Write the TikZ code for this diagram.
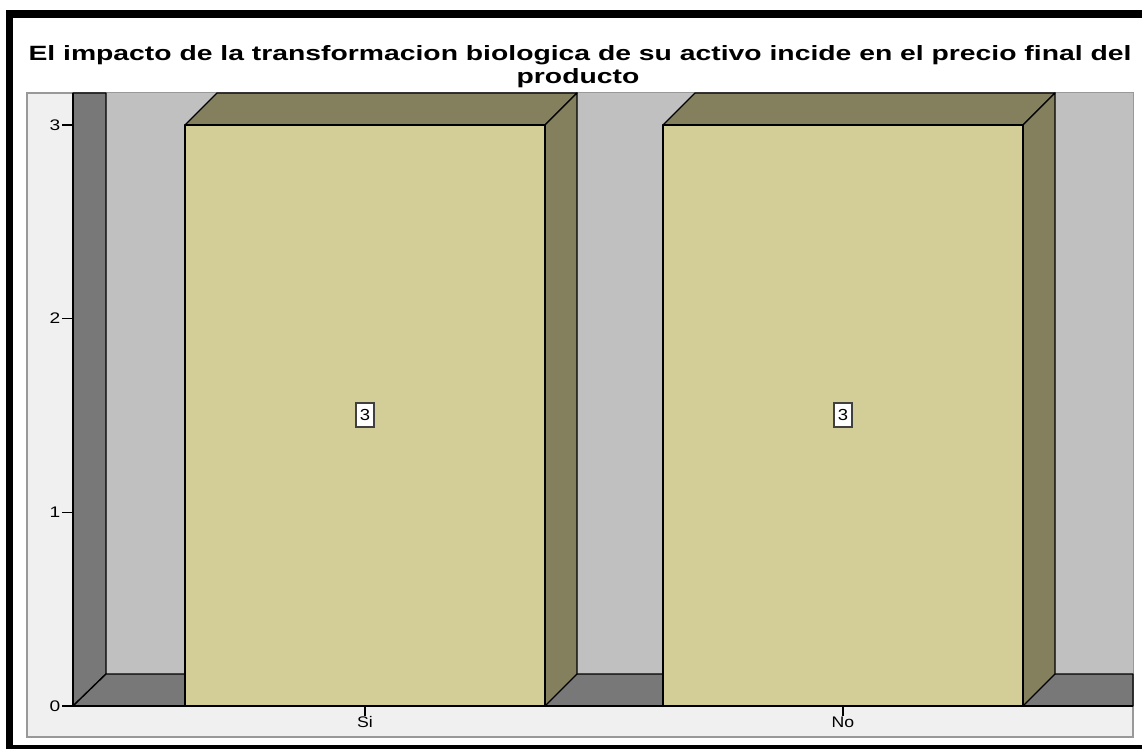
\documentclass[tikz,border=0pt]{standalone}
\usepackage{fontspec}
\setmainfont{Liberation Sans}
\definecolor{panelgray}{HTML}{F0F0F0}
\definecolor{wallgray}{HTML}{C0C0C0}
\definecolor{floorgray}{HTML}{787878}
\definecolor{barfront}{HTML}{D3CE97}
\definecolor{barside}{HTML}{84805E}
\newcommand{\wide}[2]{\scalebox{#1}[1]{#2}}
\begin{document}
\begin{tikzpicture}[x=0.75pt,y=-0.75pt,
    titletext/.style={font=\bfseries\fontsize{15.5}{17}\selectfont, inner sep=0pt, anchor=base},
    ticktext/.style={font=\fontsize{11.5}{13}\selectfont, inner sep=1pt},
    valuebox/.style={draw=black!75, line width=1.5pt, fill=white, inner sep=1pt,
        minimum width=13pt, minimum height=18.5pt, font=\fontsize{12}{13}\selectfont},
    edge3d/.style={draw=black, line width=1pt, line join=round}]
    \useasboundingbox (0,0) rectangle (1142,749);
    \fill[white] (0,0) rectangle (1142,749);
    % outer frame
    \fill[black] (6,10) rectangle (1142,18);
    \fill[black] (6,10) rectangle (13,749);
    \fill[black] (6,745) rectangle (1142,749);
    % title
    \node[titletext] (title) at (580,61) {\wide{1.37}{El impacto de la transformacion biologica de su activo incide en el precio final del}};
    \node[titletext] (title2) at (578,84) {\wide{1.37}{producto}};
    % chart panel, walls and floor
    \filldraw[fill=panelgray, draw=black!40, line width=1pt] (27,93) rectangle (1133,737);
    \fill[wallgray] (106,93) rectangle (1133,674);
    \filldraw[fill=floorgray, edge3d] (73,93) -- (106,93) -- (106,674) -- (73,706) -- cycle;
    \filldraw[fill=floorgray, edge3d] (73,706) -- (106,674) -- (1133,674) -- (1133,706) -- cycle;
    \draw[edge3d] (73,93) -- (73,706) -- (1133,706);
    % y axis
    \foreach \v in {0,1,2,3} {
        \draw[black, line width=0.9pt] (62,706-193.7*\v) -- (73,706-193.7*\v);
        \node[ticktext, anchor=east] (ylab\v) at (62,706-193.7*\v) {\wide{1.25}{\v}};
    }
    % bars
    \foreach \c/\name/\lab in {365/si/Si, 843/no/No} {
        \filldraw[fill=barside, edge3d] (\c-180,125) -- (\c-148,93) -- (\c+212,93) -- (\c+180,125) -- cycle;
        \filldraw[fill=barside, edge3d] (\c+180,125) -- (\c+212,93) -- (\c+212,674) -- (\c+180,706) -- cycle;
        \filldraw[fill=barfront, edge3d] (\c-180,125) rectangle (\c+180,706);
        \node[valuebox] (val\name) at (\c,415) {\wide{1.15}{3}};
        \draw[black, line width=0.9pt] (\c,706) -- (\c,716);
        \node[ticktext, anchor=north] (xlab\name) at (\c,715) {\wide{1.15}{\lab}};
    }
\end{tikzpicture}
\end{document}
